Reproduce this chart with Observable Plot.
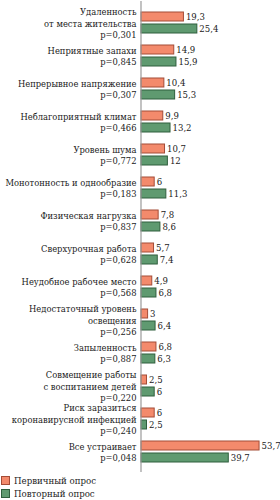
<!DOCTYPE html>
<html>
<head>
<meta charset="utf-8">
<script src="https://cdn.jsdelivr.net/npm/d3@7"></script>
<script src="https://cdn.jsdelivr.net/npm/@observablehq/plot@0.6"></script>
<style>
  html, body { margin: 0; padding: 0; background: #fff; }
  #chart svg { display: block; }
  #chart text { font-family: 'DejaVu Serif Condensed', 'DejaVu Serif', serif; font-stretch: condensed; }
  .legend { font-family: 'DejaVu Serif Condensed', 'DejaVu Serif', serif; font-stretch: condensed; font-size: 9.6px; color: #222; }
  .legend .row { display: flex; align-items: center; height: 13px; }
  .legend .sw { width: 9px; height: 9px; margin-left: 1px; margin-right: 4px; box-sizing: border-box; }
</style>
</head>
<body>
<div id="chart"></div>
<div class="legend" id="legend"></div>
<script>
const categories = [
  "Удаленность\nот места жительства",
  "Неприятные запахи",
  "Непрерывное напряжение",
  "Неблагоприятный климат",
  "Уровень шума",
  "Монотонность и однообразие",
  "Физическая нагрузка",
  "Сверхурочная работа",
  "Неудобное рабочее место",
  "Недостаточный уровень\nосвещения",
  "Запыленность",
  "Совмещение работы\nс воспитанием детей",
  "Риск заразиться\nкоронавирусной инфекцией",
  "Все устраивает"
];
const pValues = ["p=0,301","p=0,845","p=0,307","p=0,466","p=0,772","p=0,183","p=0,837","p=0,628","p=0,568","p=0,256","p=0,887","p=0,220","p=0,240","p=0,048"];
const primary = [19.3, 14.9, 10.4, 9.9, 10.7, 6, 7.8, 5.7, 4.9, 3, 6.8, 2.5, 6, 53.7];
const repeat  = [25.4, 15.9, 15.3, 13.2, 12, 11.3, 8.6, 7.4, 6.8, 6.4, 6.3, 6, 2.5, 39.7];
const seriesNames = ["Первичный опрос", "Повторный опрос"];
const seriesFill = ["#F38A6C", "#5F9A70"];
const seriesStroke = ["#A44C37", "#2F5E3D"];

const fmt = v => String(v).replace(".", ",");
const rowsP = categories.map((c, i) => ({cat: c, value: primary[i]}));
const rowsR = categories.map((c, i) => ({cat: c, value: repeat[i]}));
const labelRows = categories.map((c, i) => ({cat: c, text: c + "\n" + pValues[i]}));

const chart = Plot.plot({
  width: 280,
  height: 472,
  marginLeft: 141,
  marginRight: 6,
  marginTop: 1,
  marginBottom: 0,
  x: {domain: [0, 60.5], axis: null},
  y: {domain: categories, axis: null, paddingInner: 0.375, paddingOuter: 0.19},
  style: {fontSize: "9.5px", color: "#222", overflow: "visible"},
  marks: [
    Plot.barX(rowsP, {x: "value", y: "cat", fill: seriesFill[0], stroke: seriesStroke[0], strokeWidth: 1, insetBottom: 12}),
    Plot.barX(rowsR, {x: "value", y: "cat", fill: seriesFill[1], stroke: seriesStroke[1], strokeWidth: 1, insetTop: 12}),
    Plot.ruleX([0], {stroke: "#9a9a9a", strokeWidth: 1.2, dx: -0.5}),
    Plot.text(rowsP, {x: "value", y: "cat", text: d => fmt(d.value), dy: -6, dx: 2, textAnchor: "start", fill: "#222", fontSize: 9.5}),
    Plot.text(rowsR, {x: "value", y: "cat", text: d => fmt(d.value), dy: 6, dx: 2, textAnchor: "start", fill: "#222", fontSize: 9.5}),
    Plot.text(labelRows, {x: () => 0, y: "cat", text: "text", textAnchor: "end", dx: -5, lineHeight: 1.2, fill: "#222", fontSize: 9.3})
  ]
});
document.getElementById("chart").appendChild(chart);

const legend = document.getElementById("legend");
legend.style.paddingTop = "2px";
seriesNames.forEach((name, i) => {
  const row = document.createElement("div");
  row.className = "row";
  const sw = document.createElement("span");
  sw.className = "sw";
  sw.style.background = seriesFill[i];
  sw.style.border = "1px solid " + seriesStroke[i];
  const t = document.createElement("span");
  t.textContent = name;
  row.appendChild(sw);
  row.appendChild(t);
  legend.appendChild(row);
});
</script>
</body>
</html>
